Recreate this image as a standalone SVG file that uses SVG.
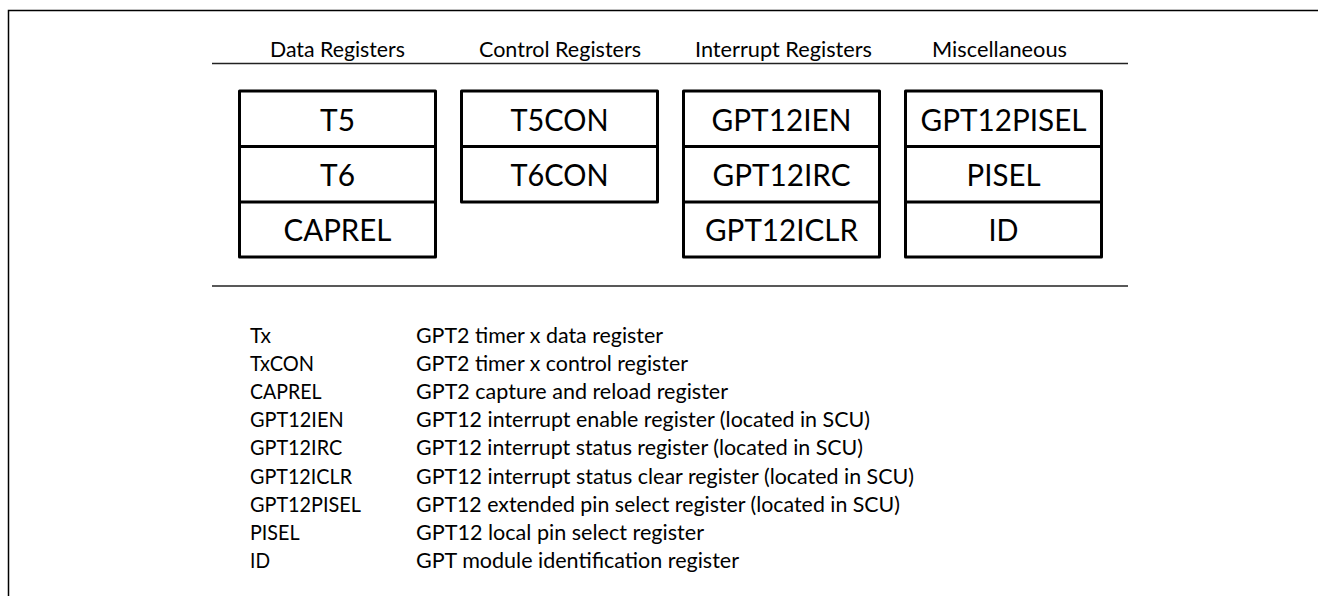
<svg xmlns="http://www.w3.org/2000/svg" width="1318" height="596" viewBox="0 0 1318 596">
<style>
.frame{fill:none;stroke:#000;stroke-width:1.5}
.rule{stroke:#222;stroke-width:1.6}
.hdr{font-family:Lato,"Liberation Sans",sans-serif;font-size:21px;fill:#000;text-anchor:middle}
.box{fill:#fff;stroke:#000;stroke-width:3;stroke-linejoin:round}
.div{stroke:#000;stroke-width:3}
.lbl{font-family:Lato,"Liberation Sans",sans-serif;font-size:31px;fill:#000;text-anchor:middle}
.leg{font-family:Lato,"Liberation Sans",sans-serif;font-size:21px;fill:#000}
</style>
<rect width="1318" height="596" fill="#fff"/>
<path class="frame" d="M8.5,596 V10.5 H1318"/>
<g id="headers">
<line class="rule" x1="212" y1="63.5" x2="1128" y2="63.5"/>
<text class="hdr" x="337.5" y="56.5" textLength="135" lengthAdjust="spacingAndGlyphs">Data Registers</text>
<text class="hdr" x="560" y="56.5" textLength="162" lengthAdjust="spacingAndGlyphs">Control Registers</text>
<text class="hdr" x="783.5" y="56.5" textLength="177" lengthAdjust="spacingAndGlyphs">Interrupt Registers</text>
<text class="hdr" x="999.5" y="56.5" textLength="135" lengthAdjust="spacingAndGlyphs">Miscellaneous</text>
<line class="rule" x1="212" y1="286" x2="1128" y2="286"/>
</g>
<g id="data-registers">
<rect class="box" x="239.5" y="91" width="196" height="166"/>
<line class="div" x1="239.5" y1="146.5" x2="435.5" y2="146.5"/>
<line class="div" x1="239.5" y1="202" x2="435.5" y2="202"/>
<text class="lbl" x="337.5" y="130.5" textLength="35" lengthAdjust="spacingAndGlyphs">T5</text>
<text class="lbl" x="337.5" y="186" textLength="35" lengthAdjust="spacingAndGlyphs">T6</text>
<text class="lbl" x="337.5" y="240.5" textLength="108" lengthAdjust="spacingAndGlyphs">CAPREL</text>
</g>
<g id="control-registers">
<rect class="box" x="461.5" y="91" width="196" height="111"/>
<line class="div" x1="461.5" y1="146.5" x2="657.5" y2="146.5"/>
<text class="lbl" x="559.5" y="130.5" textLength="98" lengthAdjust="spacingAndGlyphs">T5CON</text>
<text class="lbl" x="559.5" y="186" textLength="98" lengthAdjust="spacingAndGlyphs">T6CON</text>
</g>
<g id="interrupt-registers">
<rect class="box" x="683.5" y="91" width="196" height="166"/>
<line class="div" x1="683.5" y1="146.5" x2="879.5" y2="146.5"/>
<line class="div" x1="683.5" y1="202" x2="879.5" y2="202"/>
<text class="lbl" x="781.5" y="130.5" textLength="140" lengthAdjust="spacingAndGlyphs">GPT12IEN</text>
<text class="lbl" x="781.5" y="186" textLength="138" lengthAdjust="spacingAndGlyphs">GPT12IRC</text>
<text class="lbl" x="781.5" y="240.5" textLength="153" lengthAdjust="spacingAndGlyphs">GPT12ICLR</text>
</g>
<g id="misc-registers">
<rect class="box" x="905.5" y="91" width="196" height="166"/>
<line class="div" x1="905.5" y1="146.5" x2="1101.5" y2="146.5"/>
<line class="div" x1="905.5" y1="202" x2="1101.5" y2="202"/>
<text class="lbl" x="1003.5" y="130.5" textLength="166" lengthAdjust="spacingAndGlyphs">GPT12PISEL</text>
<text class="lbl" x="1003.5" y="186" textLength="74" lengthAdjust="spacingAndGlyphs">PISEL</text>
<text class="lbl" x="1003.5" y="240.5" textLength="30" lengthAdjust="spacingAndGlyphs">ID</text>
</g>
<g id="legend" class="leg">
<text x="250" y="343" textLength="21" lengthAdjust="spacingAndGlyphs">Tx</text>
<text x="416" y="343" textLength="247" lengthAdjust="spacingAndGlyphs">GPT2 timer x data register</text>
<text x="250" y="371.1" textLength="64" lengthAdjust="spacingAndGlyphs">TxCON</text>
<text x="416" y="371.1" textLength="272" lengthAdjust="spacingAndGlyphs">GPT2 timer x control register</text>
<text x="250" y="399.2" textLength="71.5" lengthAdjust="spacingAndGlyphs">CAPREL</text>
<text x="416" y="399.2" textLength="312" lengthAdjust="spacingAndGlyphs">GPT2 capture and reload register</text>
<text x="250" y="427.3" textLength="93.6" lengthAdjust="spacingAndGlyphs">GPT12IEN</text>
<text x="416" y="427.3" textLength="454" lengthAdjust="spacingAndGlyphs">GPT12 interrupt enable register (located in SCU)</text>
<text x="250" y="455.4" textLength="92.2" lengthAdjust="spacingAndGlyphs">GPT12IRC</text>
<text x="416" y="455.4" textLength="447" lengthAdjust="spacingAndGlyphs">GPT12 interrupt status register (located in SCU)</text>
<text x="250" y="483.5" textLength="102" lengthAdjust="spacingAndGlyphs">GPT12ICLR</text>
<text x="416" y="483.5" textLength="498" lengthAdjust="spacingAndGlyphs">GPT12 interrupt status clear register (located in SCU)</text>
<text x="250" y="511.6" textLength="111" lengthAdjust="spacingAndGlyphs">GPT12PISEL</text>
<text x="416" y="511.6" textLength="484" lengthAdjust="spacingAndGlyphs">GPT12 extended pin select register (located in SCU)</text>
<text x="250" y="539.7" textLength="49.6" lengthAdjust="spacingAndGlyphs">PISEL</text>
<text x="416" y="539.7" textLength="288" lengthAdjust="spacingAndGlyphs">GPT12 local pin select register</text>
<text x="250" y="567.8" textLength="20" lengthAdjust="spacingAndGlyphs">ID</text>
<text x="416" y="567.8" textLength="323" lengthAdjust="spacingAndGlyphs">GPT module identification register</text>
</g>
</svg>
